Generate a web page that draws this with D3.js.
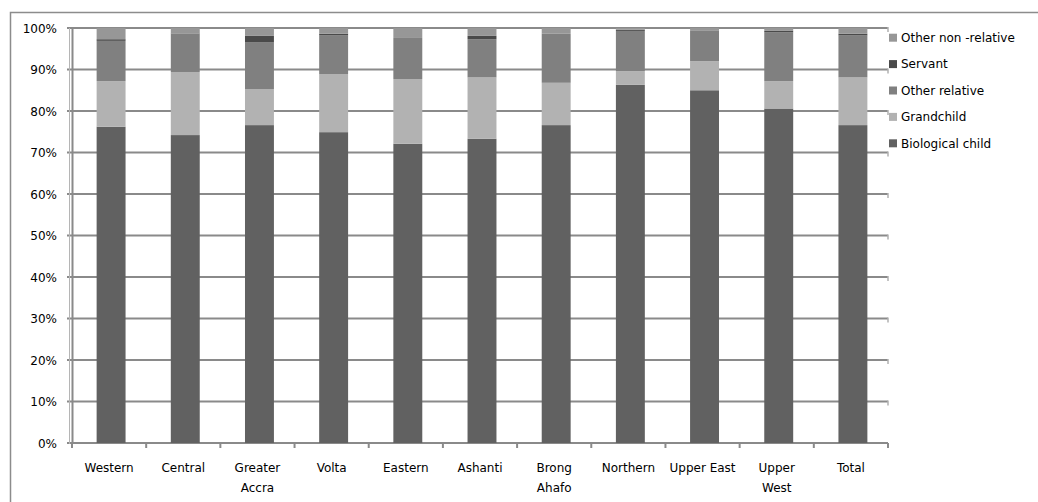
<!DOCTYPE html>
<html><head><meta charset="utf-8">
<script src="https://cdn.jsdelivr.net/npm/d3@7"></script>
<style>body{margin:0;background:#fff}svg{display:block}text{font-family:"DejaVu Sans",sans-serif;font-size:12px;fill:#000}</style>
</head><body><svg id="c" width="1038" height="502"></svg>
<script>
const categories = ["Western","Central","Greater Accra","Volta","Eastern","Ashanti","Brong Ahafo","Northern","Upper East","Upper West","Total"];
const categoryLines = [["Western"],["Central"],["Greater","Accra"],["Volta"],["Eastern"],["Ashanti"],["Brong","Ahafo"],["Northern"],["Upper East"],["Upper","West"],["Total"]];
const seriesNames = ["Biological child","Grandchild","Other relative","Servant","Other non -relative"];
const biologicalChild = [76.2,74.2,76.6,74.9,72.1,73.3,76.6,86.3,85.0,80.6,76.6];
const grandchild      = [11.0,15.2, 8.7,14.0,15.6,14.8,10.2, 3.3, 7.0, 6.6,11.5];
const otherRelative   = [ 9.7, 9.2,11.2, 9.3, 9.9, 9.2,11.8, 9.7, 7.3,11.8,10.1];
const servant         = [ 0.4, 0.1, 1.6, 0.4, 0.0, 0.8, 0.0, 0.3, 0.0, 0.3, 0.4];
const otherNonRelative= [ 2.7, 1.3, 1.9, 1.4, 2.4, 1.9, 1.4, 0.4, 0.7, 0.7, 1.4];
const yTicks = [0,10,20,30,40,50,60,70,80,90,100];
const colors = ["#616161","#b2b2b2","#808080","#4a4a4a","#979797"];

const svg = d3.select("#c");
const seriesVals = [biologicalChild,grandchild,otherRelative,servant,otherNonRelative];
const rows = categories.map((c,i)=>{const r={cat:c};seriesNames.forEach((s,j)=>r[s]=seriesVals[j][i]);return r;});
const stack = d3.stack().keys(seriesNames)(rows);

const x = d3.scaleBand().domain(categories).range([72,888]).paddingInner(0.61).paddingOuter(0.305);
const xb = d3.scaleBand().domain(categories).range([72,888]);
const y = d3.scaleLinear().domain([0,100]).range([443,28]);

// outer frame
svg.append("rect").attr("x",10.5).attr("y",12.5).attr("width",1100).attr("height",600)
  .attr("fill","none").attr("stroke","#8c8c8c").attr("stroke-width",1.5);

// gridlines
svg.append("g").selectAll("line").data(yTicks).join("line")
  .attr("x1",67).attr("x2",888).attr("y1",d=>y(d)).attr("y2",d=>y(d))
  .attr("stroke","#8a8a8a").attr("stroke-width",2);
// right end marks
svg.append("g").selectAll("line").data(yTicks.slice(1)).join("line")
  .attr("x1",888).attr("x2",888).attr("y1",d=>y(d)-1).attr("y2",d=>y(d)+4)
  .attr("stroke","#b0b0b0").attr("stroke-width",1.5);

// y axis double line
svg.append("line").attr("x1",69.5).attr("x2",69.5).attr("y1",y(100)).attr("y2",y(0)+1).attr("stroke","#b5b5b5").attr("stroke-width",1);
svg.append("line").attr("x1",72.5).attr("x2",72.5).attr("y1",y(100)).attr("y2",y(0)+1).attr("stroke","#8a8a8a").attr("stroke-width",2);

// x ticks
const bounds = categories.map(c=>xb(c)).concat([888]);
svg.append("g").selectAll("line").data(bounds).join("line")
  .attr("x1",d=>d).attr("x2",d=>d).attr("y1",y(0)).attr("y2",y(0)+5)
  .attr("stroke","#8a8a8a").attr("stroke-width",2);

// bars
svg.append("g").selectAll("g").data(stack).join("g").attr("fill",(d,i)=>colors[i])
  .selectAll("rect").data(d=>d).join("rect")
  .attr("x",d=>x(d.data.cat)+2).attr("width",x.bandwidth())
  .attr("y",d=>y(d[1])).attr("height",d=>Math.max(0,y(d[0])-y(d[1])));

// y labels
svg.append("g").selectAll("text").data(yTicks).join("text")
  .attr("x",57).attr("y",d=>y(d)+4.5).attr("text-anchor","end").text(d=>d+"%");

// x labels
const xl = svg.append("g").selectAll("text").data(categories).join("text")
  .attr("text-anchor","middle").attr("y",472);
xl.each(function(c,i){
  const t=d3.select(this);
  categoryLines[i].forEach((ln,k)=>t.append("tspan").attr("x",xb(c)+xb.bandwidth()/2).attr("dy",k?20:0).text(ln));
});

// legend
const legOrder = [4,3,2,1,0];
const lg = svg.append("g").selectAll("g").data(legOrder).join("g")
  .attr("transform",(d,i)=>`translate(889,${37.7+i*26.4})`);
lg.append("rect").attr("x",0).attr("y",-4).attr("width",8).attr("height",8).attr("fill",d=>colors[d]);
lg.append("text").attr("x",12).attr("y",4.3).text(d=>seriesNames[d]);
</script></body></html>
